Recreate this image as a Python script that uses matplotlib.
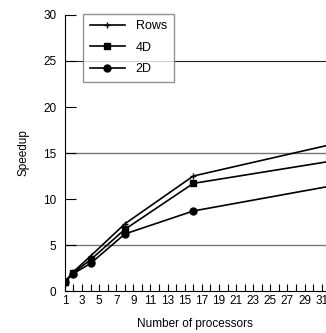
import matplotlib
matplotlib.use("Agg")
import matplotlib.pyplot as plt
from matplotlib.ticker import MultipleLocator

plt.rcParams['font.family'] = ['Liberation Sans', 'DejaVu Sans']

procs = [1, 2, 4, 8, 16, 32]
rows = [1.0, 2.1, 3.8, 7.3, 12.5, 15.9]
d4 = [1.0, 2.0, 3.4, 6.7, 11.7, 14.1]
d2 = [1.0, 1.9, 3.0, 6.2, 8.7, 11.4]
xtick_labels = list(range(1, 32, 2))
ytick_labels = [0, 5, 10, 15, 20, 25, 30]

fig = plt.figure(figsize=(3.26, 3.33), dpi=100)
ax = fig.add_axes([0.199, 0.126, 0.801, 0.829])

for y in (5, 15, 25):
    ax.axhline(y, color='#777777' if y != 25 else '#222222', lw=1.0 if y != 25 else 0.8, zorder=1)

ax.plot(procs, rows, color='black', lw=1.2, marker='+', ms=4, mew=1.0, label='Rows', zorder=3)
ax.plot(procs, d4, color='black', lw=1.2, marker='s', ms=5, label='4D', zorder=3)
ax.plot(procs, d2, color='black', lw=1.2, marker='o', ms=5, label='2D', zorder=3)

ax.set_xlim(1, 31.5)
ax.set_ylim(0, 30)
ax.set_xticks(xtick_labels)
ax.xaxis.set_minor_locator(MultipleLocator(1))
ax.set_yticks(ytick_labels)
ax.tick_params(axis='x', which='both', direction='in', length=5, width=0.8, labelsize=8.5, pad=3)
ax.tick_params(axis='y', direction='in', length=8, width=0.8, labelsize=8.5, pad=6)
for sp in ('top', 'right'):
    ax.spines[sp].set_visible(False)
for sp in ('left', 'bottom'):
    ax.spines[sp].set_linewidth(0.8)

ax.set_xlabel('Number of processors', fontsize=8.5, labelpad=8)
ax.set_ylabel('Speedup', fontsize=8.5, labelpad=10)

leg = ax.legend(loc='upper left', bbox_to_anchor=(0.068, 1.005), fontsize=9,
                frameon=True, fancybox=False, edgecolor='#777777',
                handlelength=2.8, borderpad=0.55, labelspacing=0.75, handletextpad=0.9,
                borderaxespad=0)
leg.get_frame().set_linewidth(1.0)

fig.savefig('out.png', dpi=100)
